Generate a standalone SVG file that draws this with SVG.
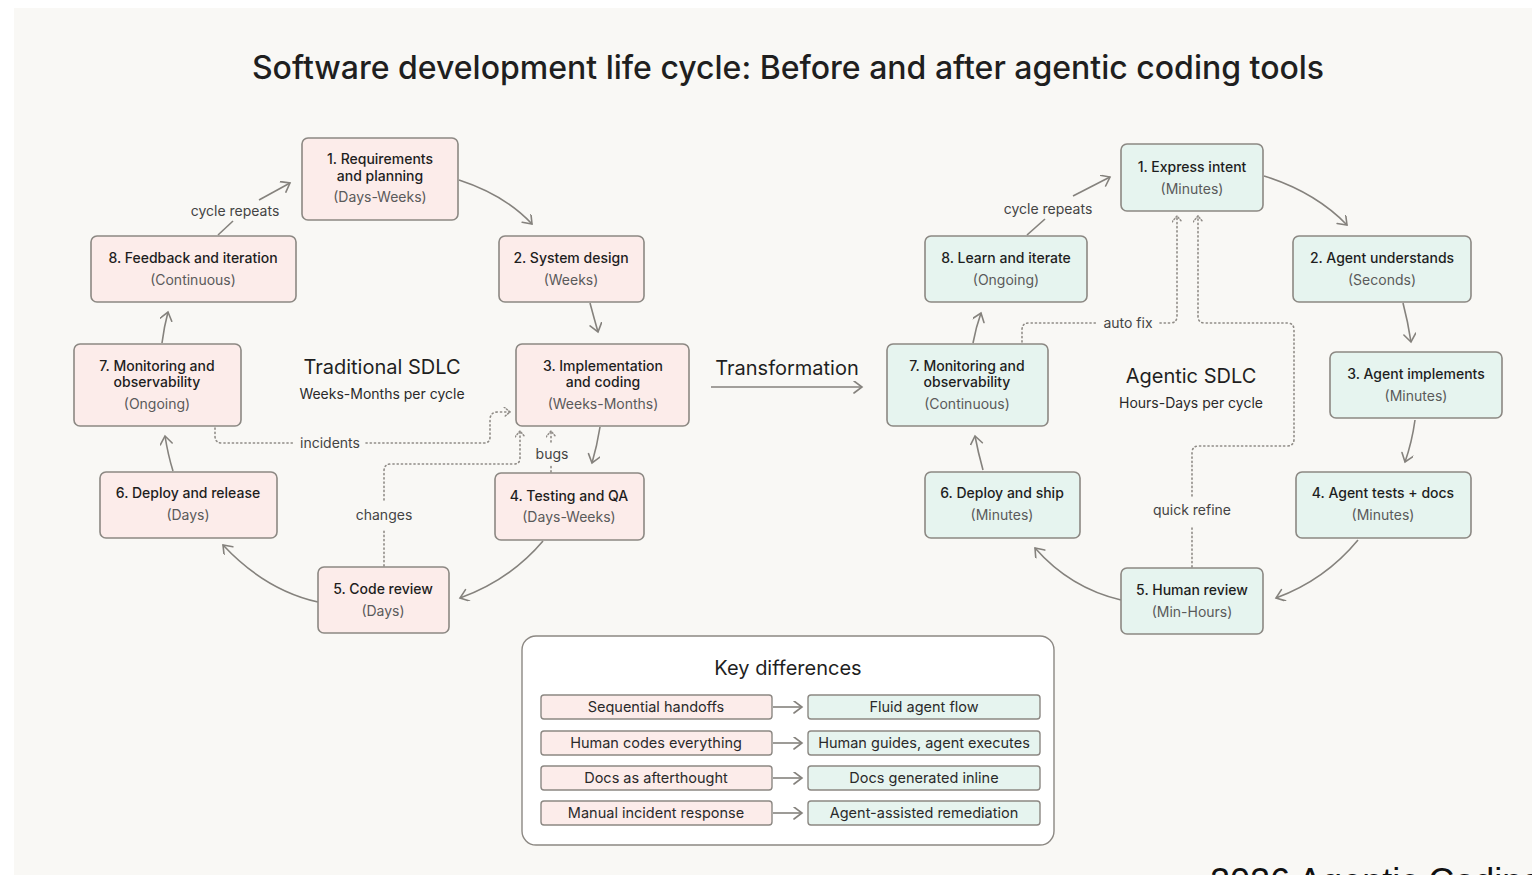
<svg xmlns="http://www.w3.org/2000/svg" width="1532" height="875" viewBox="0 0 1532 875">
  <style>
    .bg { fill: #f9f8f5; }
    .title { font-family: Inter, "Liberation Sans", sans-serif; font-size: 32px; font-weight: 500; fill: #1f1f1f; text-anchor: middle; }
    .head { font-family: Inter, "Liberation Sans", sans-serif; font-size: 20px; font-weight: 400; fill: #1f1f1f; text-anchor: middle; }
    .sub { font-family: Inter, "Liberation Sans", sans-serif; font-size: 14px; fill: #2a2a2a; text-anchor: middle; }
    .node rect { stroke: #8c8883; stroke-width: 1.6; }
    .trad rect { fill: #fcecea; }
    .agent rect { fill: #e6f4ef; }
    .name { font-family: Inter, "Liberation Sans", sans-serif; font-size: 14px; font-weight: 500; fill: #1e1e1e; text-anchor: middle; }
    .time { font-family: Inter, "Liberation Sans", sans-serif; font-size: 14px; fill: #5a5a5a; text-anchor: middle; }
    .lbl { font-family: Inter, "Liberation Sans", sans-serif; font-size: 14px; fill: #444; text-anchor: middle; }
    .flow { fill: none; stroke: #85827d; stroke-width: 1.6; }
    .dot { fill: none; stroke: #8f8b86; stroke-width: 1.6; stroke-dasharray: 1.2 3; stroke-linecap: round; }
    .key rect { stroke: #8c8883; stroke-width: 1.4; }
    .ktxt { font-family: Inter, "Liberation Sans", sans-serif; font-size: 14.5px; fill: #2a2a2a; text-anchor: middle; }
    .foot { font-family: "Liberation Sans", Arial, sans-serif; font-size: 36px; fill: #111; }
  </style>
  <defs>
    <marker id="arr" markerWidth="14" markerHeight="14" refX="10" refY="6" orient="auto" markerUnits="userSpaceOnUse">
      <path d="M2,0 L10,6 L2,12" fill="none" stroke="#85827d" stroke-width="1.6" stroke-linecap="round"/>
    </marker>
    <marker id="arrd" markerWidth="14" markerHeight="14" refX="9" refY="5" orient="auto" markerUnits="userSpaceOnUse">
      <path d="M3,0 L9,5 L3,10" fill="none" stroke="#8f8b86" stroke-width="1.5" stroke-dasharray="1.2 2" stroke-linecap="round"/>
    </marker>
  </defs>

  <rect x="0" y="0" width="1532" height="875" fill="#ffffff"/>
  <rect class="bg" x="14" y="8" width="1518" height="867"/>

  <text class="title" x="788" y="79">Software development life cycle: Before and after agentic coding tools</text>

  <!-- Section headings -->
  <text class="head" x="382" y="374">Traditional SDLC</text>
  <text class="sub" x="382" y="399">Weeks-Months per cycle</text>
  <text class="head" x="1191" y="383">Agentic SDLC</text>
  <text class="sub" x="1191" y="408">Hours-Days per cycle</text>
  <text class="head" x="787" y="375">Transformation</text>

  <!-- Connectors -->
  <g id="connectors">
    <!-- traditional cycle -->
    <path class="flow" d="M459,180 Q505,195 532,224" marker-end="url(#arr)"/>
    <path class="flow" d="M590,303 Q594,318 598,332" marker-end="url(#arr)"/>
    <path class="flow" d="M600,427 Q597,446 592,463" marker-end="url(#arr)"/>
    <path class="flow" d="M543,541 Q510,580 460,598" marker-end="url(#arr)"/>
    <path class="flow" d="M318,602 Q265,590 223,545" marker-end="url(#arr)"/>
    <path class="flow" d="M173,471 Q168,455 165,436" marker-end="url(#arr)"/>
    <path class="flow" d="M162,343 Q164,327 168,312" marker-end="url(#arr)"/>
    <path class="flow" d="M218,235 L233,221"/>
    <path class="flow" d="M259,200 L290,183" marker-end="url(#arr)"/>
    <text class="lbl" x="235" y="216">cycle repeats</text>

    <!-- traditional feedback loops -->
    <path class="dot" d="M215,428 L215,436 Q215,443 222,443 L294,443"/>
    <path class="dot" d="M366,443 L484,443 Q490,443 490,437 L490,420 Q490,412 498,412 L510,412" marker-end="url(#arrd)"/>
    <text class="lbl" x="330" y="448">incidents</text>
    <path class="dot" d="M384,566 L384,530"/>
    <path class="dot" d="M384,500 L384,471 Q384,464 391,464 L514,464 Q520,464 520,458 L520,431" marker-end="url(#arrd)"/>
    <text class="lbl" x="384" y="520">changes</text>
    <path class="dot" d="M551,472 L551,466"/>
    <path class="dot" d="M551,442 L551,431" marker-end="url(#arrd)"/>
    <text class="lbl" x="552" y="459">bugs</text>

    <!-- transformation arrow -->
    <path class="flow" d="M711,387 L862,387" marker-end="url(#arr)"/>

    <!-- agentic cycle -->
    <path class="flow" d="M1264,176 Q1315,192 1347,225" marker-end="url(#arr)"/>
    <path class="flow" d="M1403,303 Q1408,322 1411,342" marker-end="url(#arr)"/>
    <path class="flow" d="M1415,420 Q1412,442 1405,462" marker-end="url(#arr)"/>
    <path class="flow" d="M1358,540 Q1325,580 1276,598" marker-end="url(#arr)"/>
    <path class="flow" d="M1121,600 Q1070,588 1035,548" marker-end="url(#arr)"/>
    <path class="flow" d="M983,470 Q978,452 975,436" marker-end="url(#arr)"/>
    <path class="flow" d="M973,343 Q976,327 981,313" marker-end="url(#arr)"/>
    <path class="flow" d="M1027,235 L1045,219"/>
    <path class="flow" d="M1073,196 L1110,177" marker-end="url(#arr)"/>
    <text class="lbl" x="1048" y="214">cycle repeats</text>

    <!-- agentic feedback loops -->
    <path class="dot" d="M1022,342 L1022,330 Q1022,323 1029,323 L1097,323"/>
    <path class="dot" d="M1160,323 L1170,323 Q1177,323 1177,316 L1177,216" marker-end="url(#arrd)"/>
    <text class="lbl" x="1128" y="328">auto fix</text>
    <path class="dot" d="M1192,567 L1192,526"/>
    <path class="dot" d="M1192,496 L1192,453 Q1192,446 1199,446 L1287,446 Q1294,446 1294,439 L1294,330 Q1294,323 1287,323 L1205,323 Q1198,323 1198,316 L1198,216" marker-end="url(#arrd)"/>
    <text class="lbl" x="1192" y="515">quick refine</text>
  </g>

  <!-- Traditional nodes -->
  <g id="t1" class="node trad">
    <rect x="302" y="138" width="156" height="82" rx="6"/>
    <text class="name" x="380" y="164">1. Requirements</text>
    <text class="name" x="380" y="181">and planning</text>
    <text class="time" x="380" y="202">(Days-Weeks)</text>
  </g>
  <g id="t2" class="node trad">
    <rect x="499" y="236" width="145" height="66" rx="6"/>
    <text class="name" x="571" y="263">2. System design</text>
    <text class="time" x="571" y="285">(Weeks)</text>
  </g>
  <g id="t3" class="node trad">
    <rect x="516" y="344" width="173" height="82" rx="6"/>
    <text class="name" x="603" y="371">3. Implementation</text>
    <text class="name" x="603" y="387">and coding</text>
    <text class="time" x="603" y="409">(Weeks-Months)</text>
  </g>
  <g id="t4" class="node trad">
    <rect x="495" y="473" width="149" height="67" rx="6"/>
    <text class="name" x="569" y="501">4. Testing and QA</text>
    <text class="time" x="569" y="522">(Days-Weeks)</text>
  </g>
  <g id="t5" class="node trad">
    <rect x="318" y="567" width="131" height="66" rx="6"/>
    <text class="name" x="383" y="594">5. Code review</text>
    <text class="time" x="383" y="616">(Days)</text>
  </g>
  <g id="t6" class="node trad">
    <rect x="100" y="472" width="177" height="66" rx="6"/>
    <text class="name" x="188" y="498">6. Deploy and release</text>
    <text class="time" x="188" y="520">(Days)</text>
  </g>
  <g id="t7" class="node trad">
    <rect x="74" y="344" width="167" height="82" rx="6"/>
    <text class="name" x="157" y="371">7. Monitoring and</text>
    <text class="name" x="157" y="387">observability</text>
    <text class="time" x="157" y="409">(Ongoing)</text>
  </g>
  <g id="t8" class="node trad">
    <rect x="91" y="236" width="205" height="66" rx="6"/>
    <text class="name" x="193" y="263">8. Feedback and iteration</text>
    <text class="time" x="193" y="285">(Continuous)</text>
  </g>

  <!-- Agentic nodes -->
  <g id="a1" class="node agent">
    <rect x="1121" y="144" width="142" height="67" rx="6"/>
    <text class="name" x="1192" y="172">1. Express intent</text>
    <text class="time" x="1192" y="194">(Minutes)</text>
  </g>
  <g id="a2" class="node agent">
    <rect x="1293" y="236" width="178" height="66" rx="6"/>
    <text class="name" x="1382" y="263">2. Agent understands</text>
    <text class="time" x="1382" y="285">(Seconds)</text>
  </g>
  <g id="a3" class="node agent">
    <rect x="1330" y="352" width="172" height="66" rx="6"/>
    <text class="name" x="1416" y="379">3. Agent implements</text>
    <text class="time" x="1416" y="401">(Minutes)</text>
  </g>
  <g id="a4" class="node agent">
    <rect x="1296" y="472" width="175" height="66" rx="6"/>
    <text class="name" x="1383" y="498">4. Agent tests + docs</text>
    <text class="time" x="1383" y="520">(Minutes)</text>
  </g>
  <g id="a5" class="node agent">
    <rect x="1121" y="568" width="142" height="66" rx="6"/>
    <text class="name" x="1192" y="595">5. Human review</text>
    <text class="time" x="1192" y="617">(Min-Hours)</text>
  </g>
  <g id="a6" class="node agent">
    <rect x="925" y="472" width="155" height="66" rx="6"/>
    <text class="name" x="1002" y="498">6. Deploy and ship</text>
    <text class="time" x="1002" y="520">(Minutes)</text>
  </g>
  <g id="a7" class="node agent">
    <rect x="887" y="344" width="161" height="82" rx="6"/>
    <text class="name" x="967" y="371">7. Monitoring and</text>
    <text class="name" x="967" y="387">observability</text>
    <text class="time" x="967" y="409">(Continuous)</text>
  </g>
  <g id="a8" class="node agent">
    <rect x="925" y="236" width="162" height="66" rx="6"/>
    <text class="name" x="1006" y="263">8. Learn and iterate</text>
    <text class="time" x="1006" y="285">(Ongoing)</text>
  </g>

  <!-- Key differences legend -->
  <g id="key-differences" class="key">
    <rect x="522" y="636" width="532" height="209" rx="14" fill="#ffffff"/>
    <text class="head" x="788" y="675">Key differences</text>
    <g fill="#fcecea">
      <rect x="541" y="695" width="231" height="24" rx="3"/>
      <rect x="541" y="731" width="231" height="24" rx="3"/>
      <rect x="541" y="766" width="231" height="24" rx="3"/>
      <rect x="541" y="801" width="231" height="24" rx="3"/>
    </g>
    <g fill="#e6f4ef">
      <rect x="808" y="695" width="232" height="24" rx="3"/>
      <rect x="808" y="731" width="232" height="24" rx="3"/>
      <rect x="808" y="766" width="232" height="24" rx="3"/>
      <rect x="808" y="801" width="232" height="24" rx="3"/>
    </g>
    <path class="flow" d="M773,707 L802,707" marker-end="url(#arr)"/>
    <path class="flow" d="M773,743 L802,743" marker-end="url(#arr)"/>
    <path class="flow" d="M773,778 L802,778" marker-end="url(#arr)"/>
    <path class="flow" d="M773,813 L802,813" marker-end="url(#arr)"/>
    <text class="ktxt" x="656" y="712">Sequential handoffs</text>
    <text class="ktxt" x="656" y="748">Human codes everything</text>
    <text class="ktxt" x="656" y="783">Docs as afterthought</text>
    <text class="ktxt" x="656" y="818">Manual incident response</text>
    <text class="ktxt" x="924" y="712">Fluid agent flow</text>
    <text class="ktxt" x="924" y="748">Human guides, agent executes</text>
    <text class="ktxt" x="924" y="783">Docs generated inline</text>
    <text class="ktxt" x="924" y="818">Agent-assisted remediation</text>
  </g>

  <text class="foot" x="1210" y="894">2026 Agentic Coding</text>
</svg>
